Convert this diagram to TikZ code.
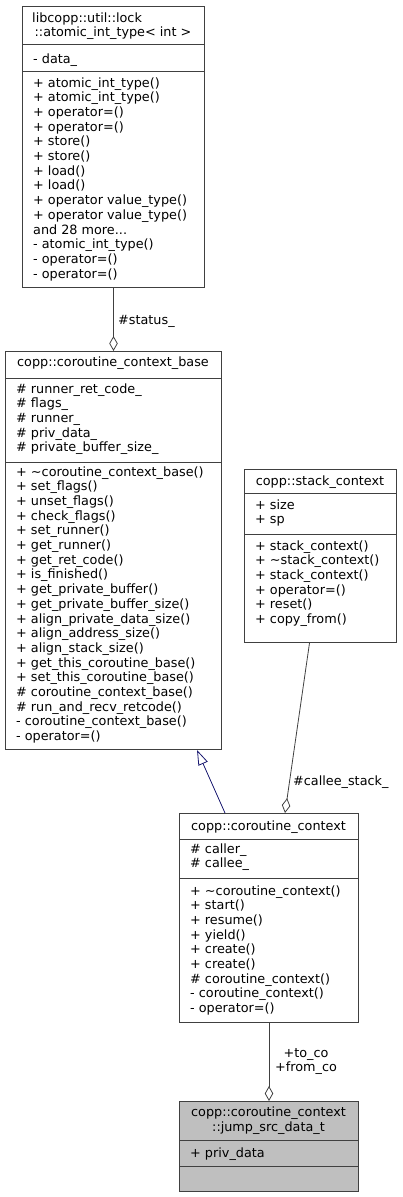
\documentclass[tikz,border=0pt]{standalone}
\usepackage{fontspec}
\setmainfont{DejaVu Sans}
\usepackage{xcolor}
\usepackage{tikz}
\usetikzlibrary{positioning}
\usetikzlibrary{calc,arrows.meta}
\definecolor{edgegray}{HTML}{404040}
\definecolor{inhblue}{HTML}{191970}
\definecolor{boxgray}{HTML}{BFBFBF}

\begin{document}
\begin{tikzpicture}[x=1pt, y=-1pt,
  classbox/.style={draw=edgegray, line width=1pt, inner sep=0pt, anchor=north west},
  sepline/.style={draw=edgegray, line width=1pt},
  member/.style={anchor=base west, inner sep=0pt},
  cname/.style={anchor=base, inner sep=0pt},
  aggr/.style={draw=edgegray, line width=0.8pt, -{Diamond[open, length=15pt, width=8.5pt]}},
  inherit/.style={draw=inhblue, line width=0.8pt, -{Triangle[open, length=15pt, width=10pt]}},
  font=\fontsize{12.8}{14.7}\selectfont]

 \useasboundingbox (0,0) rectangle (403,1197);

 %atomic_int_type
 \node[classbox, minimum width=182pt, minimum height=281pt] (atomic) at (22,6) {};
 \draw[sepline] (22,44) -- (204,44) (22,71) -- (204,71);
 \node[member] (Atitle) at (32,22) {libcopp::util::lock};
 \node[cname] (Atitle2) at (113,36.5) {::atomic\_int\_type< int >};
 \node[member] (Adata) at (33,63) {- data\_};
 \foreach \m [count=\i] in {+ atomic\_int\_type(), + atomic\_int\_type(), + operator=(), + operator=(),
     + store(), + store(), + load(), + load(), + operator value\_type(), + operator value\_type(),
     and 28 more.{}.{}., - atomic\_int\_type(), - operator=(), - operator=()} {
   \node[member] (A\i) at (33, {72.3+14.7*\i}) {\m};
 }

 %coroutine_context_base
 \node[classbox, minimum width=216pt, minimum height=398pt] (ctxbase) at (5,351) {};
 \draw[sepline] (5,378) -- (221,378) (5,462) -- (221,462);
 \node[cname] (Btitle) at (113,366) {copp::coroutine\_context\_base};
 \foreach \m [count=\i] in {\# runner\_ret\_code\_, \# flags\_, \# runner\_, \# priv\_data\_,
     \# private\_buffer\_size\_} {
   \node[member] (F\i) at (16, {378.3+14.7*\i}) {\m};
 }
 \foreach \m [count=\i] in {+ \textasciitilde coroutine\_context\_base(), + set\_flags(), + unset\_flags(),
     + check\_flags(), + set\_runner(), + get\_runner(), + get\_ret\_code(), + is\_finished(),
     + get\_private\_buffer(), + get\_private\_buffer\_size(), + align\_private\_data\_size(),
     + align\_address\_size(), + align\_stack\_size(), + get\_this\_coroutine\_base(),
     + set\_this\_coroutine\_base(), \# coroutine\_context\_base(), \# run\_and\_recv\_retcode(),
     - coroutine\_context\_base(), - operator=()} {
   \node[member] (B\i) at (16, {461.3+14.7*\i}) {\m};
 }

 %stack_context
 \node[classbox, minimum width=152pt, minimum height=173pt] (stackctx) at (244,469) {};
 \draw[sepline] (244,493) -- (396,493) (244,534) -- (396,534);
 \node[cname] (Stitle) at (320,485) {copp::stack\_context};
 \foreach \m [count=\i] in {+ size, + sp} {
   \node[member] (G\i) at (255, {494.3+14.7*\i}) {\m};
 }
 \foreach \m [count=\i] in {+ stack\_context(), + \textasciitilde stack\_context(), + stack\_context(),
     + operator=(), + reset(), + copy\_from()} {
   \node[member] (S\i) at (255, {535.3+14.7*\i}) {\m};
 }

 %coroutine_context
 \node[classbox, minimum width=179pt, minimum height=209pt] (coctx) at (179,813) {};
 \draw[sepline] (179,839) -- (358,839) (179,878) -- (358,878);
 \node[cname] (Ctitle) at (268.5,830) {copp::coroutine\_context};
 \foreach \m [count=\i] in {\# caller\_, \# callee\_} {
   \node[member] (H\i) at (190, {838.3+14.7*\i}) {\m};
 }
 \foreach \m [count=\i] in {+ \textasciitilde coroutine\_context(), + start(), + resume(), + yield(),
     + create(), + create(), \# coroutine\_context(), - coroutine\_context(), - operator=()} {
   \node[member] (C\i) at (190, {880.3+14.7*\i}) {\m};
 }

 %jump_src_data_t
 \node[classbox, fill=boxgray, minimum width=179pt, minimum height=90pt] (jumpdata) at (179,1101) {};
 \draw[sepline] (179,1140) -- (358,1140) (179,1166) -- (358,1166);
 \node[cname] (Jtitle) at (268.5,1116) {copp::coroutine\_context};
 \node[cname] (Jtitle2) at (268.5,1131) {::jump\_src\_data\_t};
 \node[member] (J1) at (190,1157) {+ priv\_data};

 %arrows
 \draw[aggr] (atomic.south) -- (ctxbase.north);
 \draw[inherit] ($(coctx.north west)+(46,0)$) -- ($(ctxbase.south west)+(192,0)$);
 \draw[aggr] ($(stackctx.south)+(-11,0)$) -- ($(coctx.north)+(16,0)$);
 \draw[aggr] (coctx.south) -- (jumpdata.north);

 %edge labels
 \node[member] (Lstatus) at (118,324) {\#status\_};
 \node[member] (Lcallee) at (293,785) {\#callee\_stack\_};
 \node[cname] (Lto) at (306,1057) {+to\_co};
 \node[cname] (Lfrom) at (306,1071) {+from\_co};
\end{tikzpicture}
\end{document}
